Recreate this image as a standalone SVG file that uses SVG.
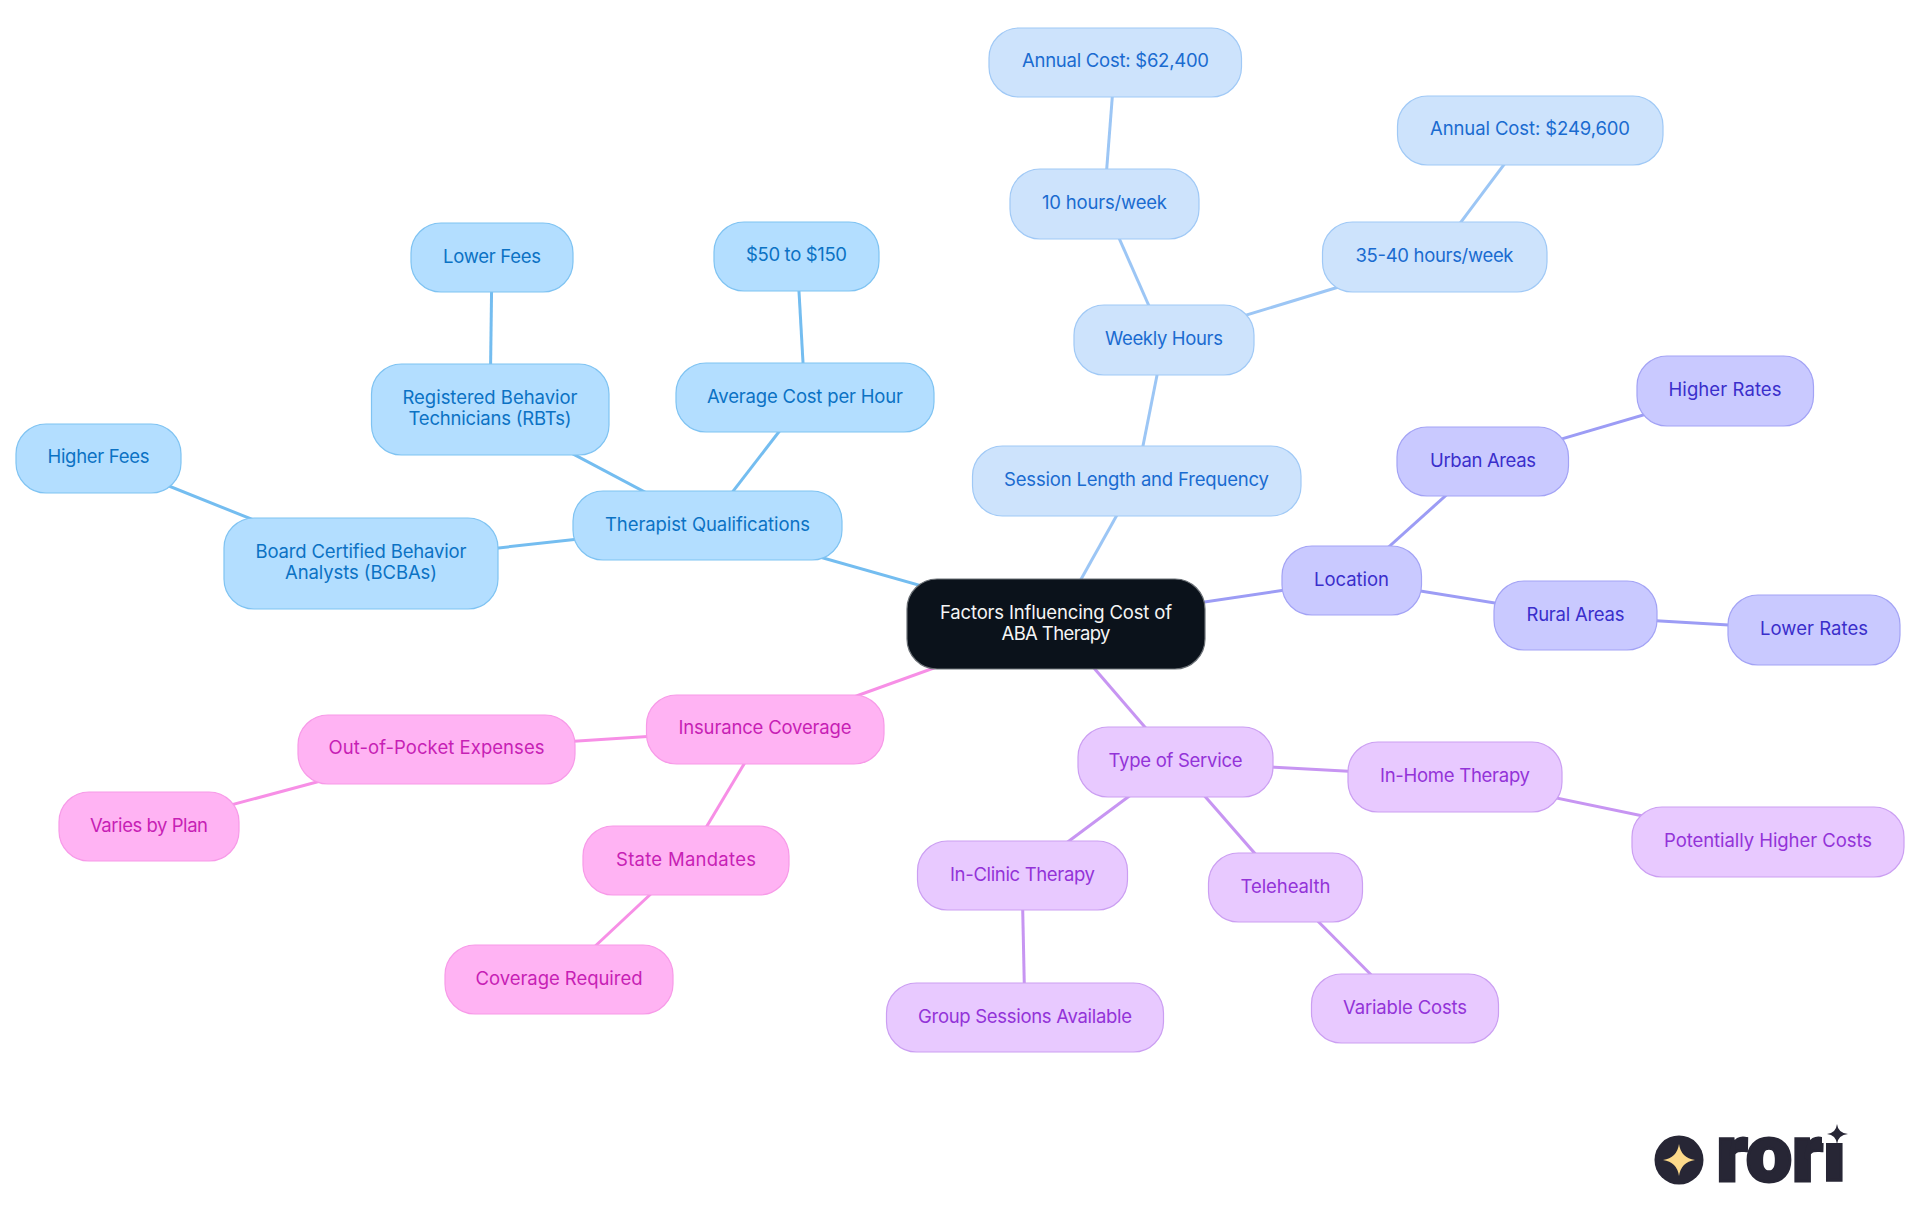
<svg xmlns="http://www.w3.org/2000/svg" width="1920" height="1215" viewBox="0 0 1920 1215">
<style>
text{font-family:"Inter","Noto Sans","Liberation Sans",sans-serif;font-size:18.5px;text-anchor:middle;font-weight:400}
rect{stroke-width:1.2}
#connectors line{stroke-width:3;fill:none}
.a rect{fill:#b3deff;stroke:#7fc3f2}.a text{fill:#0b72c4}.al{stroke:#74bdf0}
.b rect{fill:#cde3fc;stroke:#a0c9f6}.b text{fill:#1a6bd0}.bl{stroke:#9cc6f5}
.c rect{fill:#c9c9ff;stroke:#a3a3f5}.c text{fill:#3a2ecb}.cl{stroke:#9c9cf5}
.d rect{fill:#e8c9ff;stroke:#cb9ff2}.d text{fill:#9333d8}.dl{stroke:#c795f2}
.e rect{fill:#ffb3f3;stroke:#f79ae8}.e text{fill:#c71fb5}.el{stroke:#f78fe6}
</style>
<rect width="1920" height="1215" fill="#fff" stroke="none"/>
<g id="connectors">
<line class="al" x1="1056" y1="624" x2="707" y2="525"/>
<line class="al" x1="707" y1="525" x2="805" y2="398"/>
<line class="al" x1="805" y1="398" x2="797" y2="256"/>
<line class="al" x1="707" y1="525" x2="490" y2="410"/>
<line class="al" x1="490" y1="410" x2="492" y2="258"/>
<line class="al" x1="707" y1="525" x2="361" y2="563"/>
<line class="al" x1="361" y1="563" x2="99" y2="458"/>
<line class="bl" x1="1056" y1="624" x2="1136" y2="481"/>
<line class="bl" x1="1136" y1="481" x2="1164" y2="340"/>
<line class="bl" x1="1164" y1="340" x2="1104" y2="204"/>
<line class="bl" x1="1104" y1="204" x2="1115" y2="62"/>
<line class="bl" x1="1164" y1="340" x2="1434" y2="258"/>
<line class="bl" x1="1434" y1="258" x2="1530" y2="130"/>
<line class="cl" x1="1056" y1="624" x2="1352" y2="580"/>
<line class="cl" x1="1352" y1="580" x2="1483" y2="462"/>
<line class="cl" x1="1483" y1="462" x2="1725" y2="391"/>
<line class="cl" x1="1352" y1="580" x2="1575" y2="616"/>
<line class="cl" x1="1575" y1="616" x2="1814" y2="630"/>
<line class="dl" x1="1056" y1="624" x2="1175" y2="762"/>
<line class="dl" x1="1175" y1="762" x2="1455" y2="777"/>
<line class="dl" x1="1455" y1="777" x2="1768" y2="842"/>
<line class="dl" x1="1175" y1="762" x2="1022" y2="876"/>
<line class="dl" x1="1022" y1="876" x2="1025" y2="1018"/>
<line class="dl" x1="1175" y1="762" x2="1285" y2="888"/>
<line class="dl" x1="1285" y1="888" x2="1405" y2="1009"/>
<line class="el" x1="1056" y1="624" x2="765" y2="729"/>
<line class="el" x1="765" y1="729" x2="436" y2="750"/>
<line class="el" x1="436" y1="750" x2="149" y2="827"/>
<line class="el" x1="765" y1="729" x2="686" y2="861"/>
<line class="el" x1="686" y1="861" x2="559" y2="980"/>
</g>
<g id="root"><rect x="907" y="579" width="298" height="90" rx="30" fill="#0b121b" stroke="#6b7076"/><text x="1056" y="619" fill="#f5f5f5" textLength="232">Factors Influencing Cost of</text><text x="1056" y="640" fill="#f5f5f5" textLength="109">ABA Therapy</text></g>
<g id="therapist" class="a"><rect x="573" y="491" width="269" height="69" rx="30"/><text x="707.5" y="531" textLength="205">Therapist Qualifications</text></g>
<g id="avgcost" class="a"><rect x="676" y="363" width="258" height="69" rx="30"/><text x="805" y="403" textLength="196">Average Cost per Hour</text></g>
<g id="range" class="a"><rect x="714" y="222" width="165" height="69" rx="30"/><text x="796.5" y="261" textLength="101">$50 to $150</text></g>
<g id="rbt" class="a"><rect x="371.500" y="364" width="237.500" height="91" rx="30"/><text x="490" y="404" textLength="175">Registered Behavior</text><text x="490" y="425" textLength="163">Technicians (RBTs)</text></g>
<g id="lowerfees" class="a"><rect x="411" y="223" width="162" height="69" rx="30"/><text x="492" y="263" textLength="98">Lower Fees</text></g>
<g id="bcba" class="a"><rect x="224" y="518" width="274" height="91" rx="30"/><text x="361" y="558" textLength="211">Board Certified Behavior</text><text x="361" y="579" textLength="152">Analysts (BCBAs)</text></g>
<g id="higherfees" class="a"><rect x="16" y="424" width="165" height="69" rx="30"/><text x="98.500" y="463" textLength="102">Higher Fees</text></g>
<g id="session" class="b"><rect x="972.500" y="446" width="328.500" height="70" rx="30"/><text x="1136.500" y="486" textLength="265">Session Length and Frequency</text></g>
<g id="weekly" class="b"><rect x="1074" y="305" width="180" height="70" rx="30"/><text x="1164" y="345" textLength="118">Weekly Hours</text></g>
<g id="h10" class="b"><rect x="1010" y="169" width="189" height="70" rx="30"/><text x="1104.500" y="209" textLength="125">10 hours/week</text></g>
<g id="cost62" class="b"><rect x="989" y="28" width="252.500" height="69" rx="30"/><text x="1115.500" y="67" textLength="187">Annual Cost: $62,400</text></g>
<g id="h35" class="b"><rect x="1322.500" y="222" width="224.500" height="70" rx="30"/><text x="1434.500" y="262" textLength="158">35-40 hours/week</text></g>
<g id="cost249" class="b"><rect x="1397.500" y="96" width="265.500" height="69" rx="30"/><text x="1530" y="135" textLength="200">Annual Cost: $249,600</text></g>
<g id="location" class="c"><rect x="1282" y="546" width="139.500" height="69" rx="30"/><text x="1351.500" y="586" textLength="75">Location</text></g>
<g id="urban" class="c"><rect x="1397" y="427" width="171.500" height="69" rx="30"/><text x="1483" y="467" textLength="106">Urban Areas</text></g>
<g id="higherrates" class="c"><rect x="1637" y="356" width="176.500" height="70" rx="30"/><text x="1725" y="396" textLength="113">Higher Rates</text></g>
<g id="rural" class="c"><rect x="1494" y="581" width="163" height="69" rx="30"/><text x="1575.500" y="621" textLength="98">Rural Areas</text></g>
<g id="lowerrates" class="c"><rect x="1728" y="595" width="172" height="70" rx="30"/><text x="1814" y="635" textLength="108">Lower Rates</text></g>
<g id="type" class="d"><rect x="1078" y="727" width="195" height="70" rx="30"/><text x="1175.500" y="767" textLength="134">Type of Service</text></g>
<g id="inhome" class="d"><rect x="1348" y="742" width="214" height="70" rx="30"/><text x="1455" y="782" textLength="150">In-Home Therapy</text></g>
<g id="potential" class="d"><rect x="1632" y="807" width="272" height="70" rx="30"/><text x="1768" y="847" textLength="208">Potentially Higher Costs</text></g>
<g id="inclinic" class="d"><rect x="917.500" y="841" width="210" height="69" rx="30"/><text x="1022.500" y="881" textLength="145">In-Clinic Therapy</text></g>
<g id="group" class="d"><rect x="886.500" y="983" width="277" height="69" rx="30"/><text x="1025" y="1023" textLength="214">Group Sessions Available</text></g>
<g id="telehealth" class="d"><rect x="1208.500" y="853" width="154" height="69" rx="30"/><text x="1285.500" y="893" textLength="90">Telehealth</text></g>
<g id="variable" class="d"><rect x="1311.500" y="974" width="187" height="69" rx="30"/><text x="1405" y="1014" textLength="124">Variable Costs</text></g>
<g id="insurance" class="e"><rect x="646.500" y="695" width="237.500" height="69" rx="30"/><text x="765" y="734" textLength="173">Insurance Coverage</text></g>
<g id="oop" class="e"><rect x="298" y="715" width="277" height="69" rx="30"/><text x="436.500" y="754" textLength="216">Out-of-Pocket Expenses</text></g>
<g id="varies" class="e"><rect x="59" y="792" width="180" height="69" rx="30"/><text x="149" y="832" textLength="118">Varies by Plan</text></g>
<g id="state" class="e"><rect x="583" y="826" width="206" height="69" rx="30"/><text x="686" y="866" textLength="140">State Mandates</text></g>
<g id="coverage" class="e"><rect x="445" y="945" width="228" height="69" rx="30"/><text x="559" y="985" textLength="167">Coverage Required</text></g>
<g id="logo">
<circle cx="1679" cy="1160" r="24.500" fill="#272635"/>
<path d="M1679 1144Q1681 1158 1695 1160Q1681 1162 1679 1176Q1677 1162 1663 1160Q1677 1158 1679 1144Z" fill="#fcd98a"/>
<text x="1781" y="1181" textLength="129" lengthAdjust="spacingAndGlyphs" stroke="#272635" stroke-width="3" style="font-family:Roboto,sans-serif;font-size:80px;font-weight:900;fill:#272635">rori</text>
<rect x="1822" y="1110" width="30" height="33" fill="#fff" stroke="none"/>
<path d="M1837 1124Q1838 1133 1848 1134Q1838 1135 1837 1144Q1836 1135 1827 1134Q1836 1133 1837 1124Z" fill="#272635"/>
</g>
</svg>
